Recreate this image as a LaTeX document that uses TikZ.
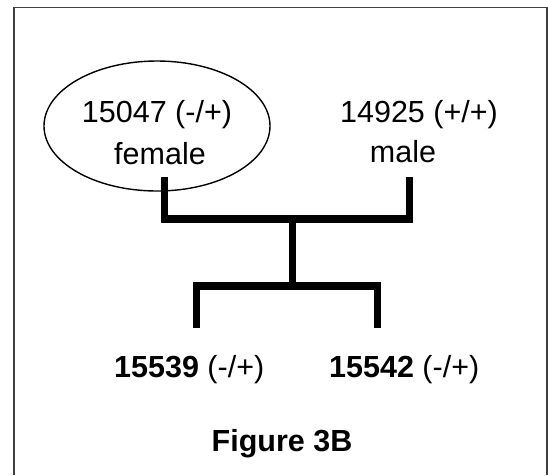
\documentclass[tikz,border=0pt]{standalone}
\usepackage{fontspec}
\setmainfont{Liberation Sans}
\usetikzlibrary{shapes.geometric}
\pgfdeclarelayer{edgelayer}
\pgfdeclarelayer{nodelayer}
\pgfsetlayers{edgelayer,nodelayer,main}
\tikzstyle{plaintext}=[inner sep=0pt,anchor=base,font=\fontsize{30.5}{36}\selectfont]
\tikzstyle{mother}=[ellipse,draw=black,line width=1.4pt,minimum width=226pt,minimum height=130pt,inner sep=0pt]
\tikzstyle{bar}=[draw=black,line width=7.5pt,line join=miter]
\tikzstyle{frame}=[draw=black!75,line width=1.6pt]

\begin{document}
\begin{tikzpicture}[x=1pt,y=-1pt]
	\useasboundingbox (0,0) rectangle (548,475);
	\draw [style=frame] (14,475) -- (14,7.5) -- (547,7.5) -- (547,475);
	\begin{pgfonlayer}{nodelayer}
		\node [style=mother] (0) at (157,126) {};
		\node [style=plaintext] (1) at (157,122) {15047 (-/+)};
		\node [style=plaintext] (2) at (160,164) {female};
		\node [style=plaintext] (3) at (419,122) {14925 (+/+)};
		\node [style=plaintext] (4) at (403,162) {male};
		\node [style=plaintext,anchor=base west] (5) at (114,377) {\textbf{15539} (-/+)};
		\node [style=plaintext,anchor=base west] (6) at (329,377) {\textbf{15542} (-/+)};
		\node [style=plaintext] (7) at (282,451) {\textbf{Figure 3B}};
	\end{pgfonlayer}
	\begin{pgfonlayer}{edgelayer}
		\coordinate (8) at (164.5,177);
		\coordinate (9) at (164.5,219);
		\coordinate (10) at (409.5,219);
		\coordinate (11) at (409.5,177);
		\coordinate (12) at (292.5,219);
		\coordinate (13) at (292.5,286);
		\coordinate (14) at (196.5,328);
		\coordinate (15) at (196.5,286);
		\coordinate (16) at (377.5,286);
		\coordinate (17) at (377.5,328);
		\draw [style=bar] (8) -- (9) -- (10) -- (11);
		\draw [style=bar] (12) -- (13);
		\draw [style=bar] (14) -- (15) -- (16) -- (17);
	\end{pgfonlayer}
\end{tikzpicture}
\end{document}
